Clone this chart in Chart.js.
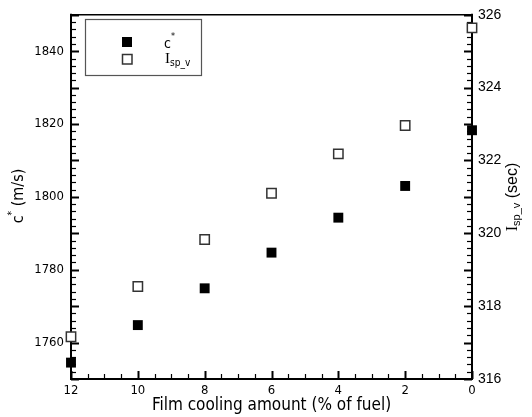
<!DOCTYPE html>
<html>
<head>
<meta charset="utf-8">
<script src="https://cdn.jsdelivr.net/npm/chart.js@4.4.0/dist/chart.umd.min.js"></script>
<style>
  body { margin: 0; background: #fff; }
  #wrap { width: 532px; height: 417px; }
</style>
</head>
<body>
<div id="wrap"><canvas id="chart" width="532" height="417"></canvas></div>
<script>
/*** data ***/
const filmCooling = [12, 10, 8, 6, 4, 2, 0];
const cStar = [1754.5, 1764.8, 1774.9, 1784.7, 1794.3, 1803.0, 1818.3];
const ispV = [317.16, 318.54, 319.83, 321.1, 322.18, 322.96, 325.64];

const xTicks = [0, 2, 4, 6, 8, 10, 12];
const cStarTicks = [1760, 1780, 1800, 1820, 1840];
const ispTicks = [316, 318, 320, 322, 324, 326];

const sansFont = 'DejaVu Sans Condensed';

/*** helpers ***/
// desenha texto com partes (sobrescrito / subscrito)
function drawRich(ctx, parts, x, y) {
  let cx = x;
  parts.forEach((p) => {
    ctx.font = p.font;
    ctx.fillText(p.text, cx, y + (p.dy || 0));
    cx += ctx.measureText(p.text).width;
  });
}
function richWidth(ctx, parts) {
  return parts.reduce((w, p) => {
    ctx.font = p.font;
    return w + ctx.measureText(p.text).width;
  }, 0);
}

// marcas de escala (maiores e menores), para dentro
function scaleMarks(ctx, scale, min, max, step, majorEvery, side, area) {
  const n = Math.round((max - min) / step);
  for (let i = 0; i <= n; i++) {
    const v = min + i * step;
    const major = i % majorEvery === 0;
    const len = major ? 8 : 5;
    const p = Math.round(scale.getPixelForValue(v)) + 0.5;
    ctx.lineWidth = major ? 2 : 1.2;
    ctx.beginPath();
    if (side === 'bottom') {
      ctx.moveTo(p, area.bottom);
      ctx.lineTo(p, area.bottom - len);
    } else if (side === 'left') {
      ctx.moveTo(area.left, p);
      ctx.lineTo(area.left + len, p);
    } else {
      ctx.moveTo(area.right, p);
      ctx.lineTo(area.right - len, p);
    }
    ctx.stroke();
  }
}

const plainLabel = (value) => String(value);

/*** plugins ***/
const frameAndTicks = {
  id: 'frameAndTicks',
  beforeDatasetsDraw(chart) {
    const ctx = chart.ctx;
    const area = chart.chartArea;
    ctx.save();
    ctx.strokeStyle = '#000';
    scaleMarks(ctx, chart.scales.x, 0, 12, 0.5, 4, 'bottom', area);
    scaleMarks(ctx, chart.scales.y, 1750, 1850, 2, 5, 'left', area);
    scaleMarks(ctx, chart.scales.y2, 316, 326, 0.2, 5, 'right', area);

    // moldura
    ctx.lineWidth = 1.5;
    ctx.beginPath();
    ctx.moveTo(area.left, area.top);
    ctx.lineTo(area.right, area.top);
    ctx.stroke();
    ctx.lineWidth = 2;
    ctx.beginPath();
    ctx.moveTo(area.left, area.top - 1);
    ctx.lineTo(area.left, area.bottom);
    ctx.lineTo(area.right, area.bottom);
    ctx.lineTo(area.right, area.top - 1);
    ctx.stroke();
    ctx.restore();
  },
  afterDraw(chart) {
    const ctx = chart.ctx;
    ctx.save();
    ctx.fillStyle = '#000';
    ctx.textBaseline = 'alphabetic';

    // titulo eixo esquerdo: c* (m/s)
    const leftParts = [
      { text: 'c', font: '16px "' + sansFont + '"' },
      { text: '*', font: '10px "' + sansFont + '"', dy: -8 },
      { text: ' (m/s)', font: '16px "' + sansFont + '"' },
    ];
    ctx.save();
    ctx.translate(23, 196);
    ctx.rotate(-Math.PI / 2);
    drawRich(ctx, leftParts, -richWidth(ctx, leftParts) / 2, 0);
    ctx.restore();

    // titulo eixo direito: Isp_v (sec)
    const rightParts = [
      { text: 'I', font: '16px "Liberation Serif"' },
      { text: 'sp_v', font: '11px "Liberation Sans"', dy: 3 },
      { text: ' (sec)', font: '16px "Liberation Sans"' },
    ];
    ctx.save();
    ctx.translate(517, 197);
    ctx.rotate(-Math.PI / 2);
    drawRich(ctx, rightParts, -richWidth(ctx, rightParts) / 2, 0);
    ctx.restore();

    // legenda
    ctx.strokeStyle = '#555';
    ctx.lineWidth = 1.2;
    ctx.strokeRect(85.5, 19.5, 116, 56);
    ctx.fillRect(122, 37, 10, 10);
    ctx.lineWidth = 1.5;
    ctx.strokeStyle = '#333';
    ctx.strokeRect(122.5, 54.5, 9.5, 9.5);
    drawRich(ctx, [
      { text: 'c', font: '14px "' + sansFont + '"' },
      { text: '*', font: '9px "' + sansFont + '"', dy: -9 },
    ], 164, 48);
    drawRich(ctx, [
      { text: 'I', font: '15px "Liberation Serif"' },
      { text: 'sp_v', font: '10px "' + sansFont + '"', dy: 3 },
    ], 165, 63);
    ctx.restore();
  },
};

/*** chart ***/
new Chart(document.getElementById('chart'), {
  type: 'scatter',
  data: {
    datasets: [
      {
        label: 'c*',
        data: filmCooling.map((x, i) => ({ x: x, y: cStar[i] })),
        yAxisID: 'y',
        pointStyle: 'rect',
        pointRadius: 7,
        backgroundColor: '#000',
        borderColor: '#000',
        borderWidth: 0,
        clip: false,
      },
      {
        label: 'Isp_v',
        data: filmCooling.map((x, i) => ({ x: x, y: ispV[i] })),
        yAxisID: 'y2',
        pointStyle: 'rect',
        pointRadius: 6.6,
        backgroundColor: '#fff',
        borderColor: '#333',
        borderWidth: 1.5,
        clip: false,
      },
    ],
  },
  options: {
    responsive: false,
    animation: false,
    devicePixelRatio: 1,
    layout: { padding: { top: 13, left: 0, right: 0, bottom: 0 } },
    plugins: {
      legend: { display: false },
      tooltip: { enabled: false },
    },
    scales: {
      x: {
        type: 'linear',
        reverse: true,
        min: 0,
        max: 12,
        afterBuildTicks: (s) => {
          s.ticks = xTicks.map((v) => ({ value: v }));
        },
        afterFit: (s) => {
          s.height = 38;
        },
        grid: { display: false, drawTicks: false },
        border: { display: false },
        ticks: {
          color: '#000',
          padding: 4,
          maxRotation: 0,
          callback: plainLabel,
          font: { family: sansFont, size: 13 },
        },
        title: {
          display: true,
          text: 'Film cooling amount (% of fuel)',
          color: '#000',
          font: { family: sansFont, size: 17 },
          padding: { top: 0, bottom: 1 },
        },
      },
      y: {
        position: 'left',
        min: 1750,
        max: 1850,
        afterBuildTicks: (s) => {
          s.ticks = cStarTicks.map((v) => ({ value: v }));
        },
        afterFit: (s) => {
          s.width = 71;
        },
        grid: { display: false, drawTicks: false },
        border: { display: false },
        ticks: {
          color: '#000',
          padding: 7,
          callback: plainLabel,
          font: { family: sansFont, size: 13 },
        },
      },
      y2: {
        position: 'right',
        min: 316,
        max: 326,
        afterBuildTicks: (s) => {
          s.ticks = ispTicks.map((v) => ({ value: v }));
        },
        afterFit: (s) => {
          s.width = 60;
        },
        grid: { display: false, drawTicks: false },
        border: { display: false },
        ticks: {
          color: '#000',
          padding: 6,
          callback: plainLabel,
          font: { family: 'Liberation Sans', size: 14 },
        },
      },
    },
  },
  plugins: [frameAndTicks],
});
</script>
</body>
</html>
